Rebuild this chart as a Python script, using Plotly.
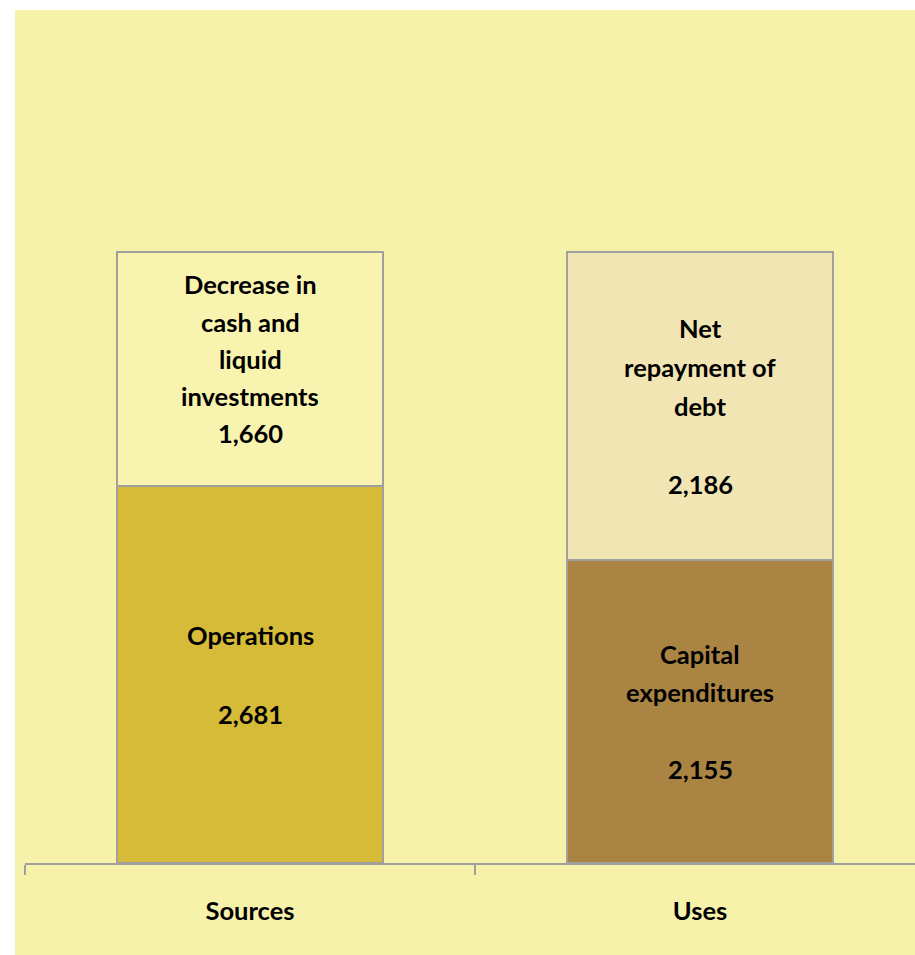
import plotly.graph_objects as go

# ---- data ----
categories = ["Sources", "Uses"]
bottom_names = ["Operations", "Capital expenditures"]
bottom_values = [2681, 2155]
top_names = ["Decrease in cash and liquid investments", "Net repayment of debt"]
top_values = [1660, 2186]
bottom_label_lines = [["Operations", ""], ["Capital", "expenditures", ""]]
top_label_lines = [["Decrease in", "cash and", "liquid", "investments"], ["Net", "repayment of", "debt", ""]]

# ---- style ----
bottom_colors = ["#D6BB38", "#AA8442"]
top_colors = ["#F8F3AE", "#F0E5B3"]
BG = "#F7F2AA"
EDGE = "#A0A0A0"
FONT = "Lato"
FS = 25.5
top_label_shift = [-10, 0]      # extra pixel offset of top-segment label blocks
top_line_spacing = [37.3, 39.0]
bottom_line_spacing = [39.5, 38.5]

W, H = 915, 955
ML, MR, MT, MB = 25, 0, 10, 92
plot_w = W - ML - MR
plot_h = H - MT - MB
PX_PER_CAT = 450.0

fig = go.Figure()
fig.add_trace(go.Bar(
    x=categories, y=bottom_values, name="bottom", width=0.59,
    marker=dict(color=bottom_colors, line=dict(color=EDGE, width=2.5)),
    hoverinfo="skip"))
fig.add_trace(go.Bar(
    x=categories, y=top_values, name="top", width=0.59,
    marker=dict(color=top_colors, line=dict(color=EDGE, width=2.5)),
    hoverinfo="skip"))

annotations = []
for i, cat in enumerate(categories):
    segs = [
        (bottom_values[i] / 2, bottom_label_lines[i] + [f"{bottom_values[i]:,}"],
         bottom_line_spacing[i], 0),
        (bottom_values[i] + top_values[i] / 2, top_label_lines[i] + [f"{top_values[i]:,}"],
         top_line_spacing[i], top_label_shift[i]),
    ]
    for yc, lines, ls, shift in segs:
        n = len(lines)
        for k, line in enumerate(lines):
            if not line:
                continue
            annotations.append(dict(
                x=cat, y=yc, xref="x", yref="y", text=f"<b>{line}</b>",
                showarrow=False, yshift=-(k - (n - 1) / 2) * ls - shift,
                font=dict(family=FONT, size=FS, color="black")))

shapes = [
    # white margins outside the yellow chart area
    dict(type="rect", xref="paper", yref="paper",
         x0=-ML / plot_w, x1=-(ML - 15) / plot_w, y0=-MB / plot_h, y1=1 + MT / plot_h,
         fillcolor="white", line=dict(width=0), layer="above"),
    dict(type="rect", xref="paper", yref="paper",
         x0=-ML / plot_w, x1=1, y0=1, y1=1 + MT / plot_h,
         fillcolor="white", line=dict(width=0), layer="above"),
]

total_px_per_unit = 611.0 / (bottom_values[0] + top_values[0])
ymax = plot_h / total_px_per_unit

fig.update_layout(
    width=W, height=H, barmode="stack", bargap=0,
    margin=dict(l=ML, r=MR, t=MT, b=MB, pad=0),
    paper_bgcolor=BG, plot_bgcolor=BG, showlegend=False,
    annotations=annotations, shapes=shapes,
    xaxis=dict(type="category", range=[-0.5, -0.5 + plot_w / PX_PER_CAT],
               showline=True, linecolor=EDGE, linewidth=2,
               ticks="outside", ticklen=10, tickwidth=2, tickcolor=EDGE,
               tickson="boundaries", showgrid=False, zeroline=False,
               ticklabelstandoff=24,
               tickfont=dict(family=FONT, size=FS, color="black")),
    yaxis=dict(range=[0, ymax], visible=False, showgrid=False, zeroline=False),
)
fig.update_xaxes(ticktext=[f"<b>{c}</b>" for c in categories], tickvals=categories)

fig.write_html("out.html",
               config={"displayModeBar": False},
               post_script="document.body.style.margin='0';document.body.style.overflow='hidden';")
